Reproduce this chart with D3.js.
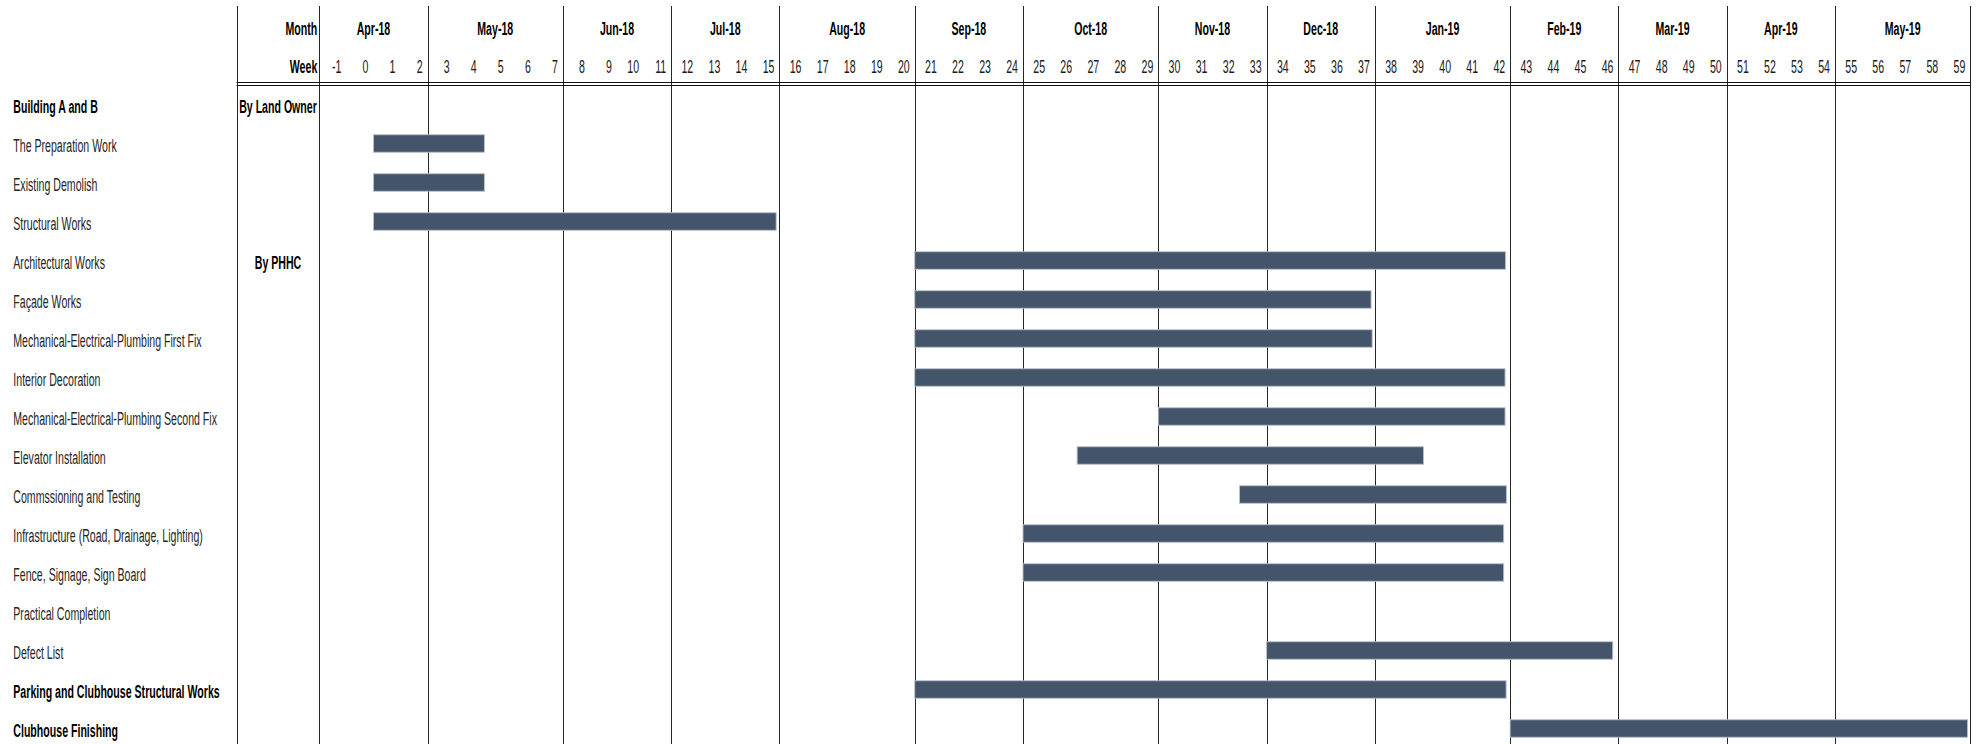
<!DOCTYPE html>
<html>
<head>
<meta charset="utf-8">
<script src="https://cdn.jsdelivr.net/npm/d3@7"></script>
<style>
  html, body { margin: 0; padding: 0; background: #ffffff; }
  svg { display: block; }
  text { font-family: "Liberation Sans", Arial, sans-serif; }
</style>
</head>
<body>
<div id="chart"></div>
<script>
// ---------------- data ----------------
const months = ["Apr-18","May-18","Jun-18","Jul-18","Aug-18","Sep-18","Oct-18","Nov-18","Dec-18","Jan-19","Feb-19","Mar-19","Apr-19","May-19"];
const monthStartWeek = [-1, 3, 8, 12, 16, 21, 25, 30, 34, 38, 43, 47, 51, 55];
const lastWeekEnd = 60;
const weeks = [-1,0,1,2,3,4,5,6,7,8,9,10,11,12,13,14,15,16,17,18,19,20,21,22,23,24,25,26,27,28,29,30,31,32,33,34,35,36,37,38,39,40,41,42,43,44,45,46,47,48,49,50,51,52,53,54,55,56,57,58,59];

const tasks = [
  "Building A and B",
  "The Preparation Work",
  "Existing Demolish",
  "Structural Works",
  "Architectural Works",
  "Façade Works",
  "Mechanical-Electrical-Plumbing First Fix",
  "Interior Decoration",
  "Mechanical-Electrical-Plumbing Second Fix",
  "Elevator Installation",
  "Commssioning and Testing",
  "Infrastructure (Road, Drainage, Lighting)",
  "Fence, Signage, Sign Board",
  "Practical Completion",
  "Defect List",
  "Parking and Clubhouse Structural Works",
  "Clubhouse Finishing"
];
// start / end in weeks (null = no bar)
const barStart = [null, 1, 1, 1, 21, 21, 21, 21, 30, 27, 33, 25, 25, null, 34, 21, 43];
const barEnd   = [null, 5.1, 5.1, 15.88, 42.83, 37.86, 37.9, 42.81, 42.81, 39.8, 42.86, 42.76, 42.76, null, 46.79, 42.85, 59.9];

const headingTasks = ["Building A and B", "Parking and Clubhouse Structural Works", "Clubhouse Finishing"];
const ownerLabels = ["By Land Owner", "By PHHC"];
const ownerRows = ["Building A and B", "Architectural Works"];

// ---------------- layout ----------------
const W = 1987, H = 744;
const SX = 0.57;          // horizontal condensing of the text
const FS = 18.6;          // font size
const rowTop = 85.5, rowH = 39;
const labelColLeft = 236.5;
const headerMonthY = 35.3, headerWeekY = 73.3;
const lineColor = "#262626";
const barColor = "#44546a";

const svg = d3.select("#chart").append("svg")
  .attr("width", W).attr("height", H)
  .style("background", "#fff");

const x = d3.scaleLinear().domain([-1, lastWeekEnd]).range([319.3, 1970.3]);
const y = d3.scaleBand().domain(tasks).range([rowTop, rowTop + tasks.length * rowH]).padding(0);

function addText(g, tx, ty, str, anchor, weight, color) {
  const t = g.append("g").attr("transform", `translate(${tx},${ty}) scale(${SX},1)`);
  t.append("text")
    .attr("x", 0).attr("y", 0)
    .attr("text-anchor", anchor)
    .attr("font-size", FS)
    .attr("font-weight", weight)
    .attr("fill", color)
    .text(str);
}

// ---------------- grid lines ----------------
const grid = svg.append("g");
const vLines = [labelColLeft].concat(monthStartWeek.map(w => x(w)), [x(lastWeekEnd)]);
grid.selectAll("line.v").data(vLines).join("line")
  .attr("class", "v")
  .attr("x1", d => Math.round(d) + 0.5).attr("x2", d => Math.round(d) + 0.5)
  .attr("y1", 6).attr("y2", H)
  .attr("stroke", lineColor).attr("stroke-width", 1);

// header double line
[82.5, 85.5].forEach(yy => {
  grid.append("line")
    .attr("x1", labelColLeft).attr("x2", Math.round(x(lastWeekEnd)) + 1)
    .attr("y1", yy).attr("y2", yy)
    .attr("stroke", "#111").attr("stroke-width", 1.1);
});

// ---------------- header ----------------
const hdr = svg.append("g");
addText(hdr, 317.3, headerMonthY, "Month", "end", "bold", "#000");
addText(hdr, 317.3, headerWeekY, "Week", "end", "bold", "#000");

months.forEach((m, i) => {
  const a = x(monthStartWeek[i]);
  const b = x(i + 1 < monthStartWeek.length ? monthStartWeek[i + 1] : lastWeekEnd);
  addText(hdr, (a + b) / 2, headerMonthY, m, "middle", "bold", "#000");
});

weeks.forEach(w => {
  addText(hdr, x(w + 1) - 5, headerWeekY, String(w), "end", "normal", "#1a1a1a");
});

// ---------------- row labels ----------------
const lbl = svg.append("g");
tasks.forEach(t => {
  const cy = y(t) + y.bandwidth() / 2;
  const bold = headingTasks.includes(t);
  addText(lbl, 13.3, cy + 7.5, t, "start", bold ? "bold" : "normal", bold ? "#000" : "#262626");
});
ownerLabels.forEach((o, i) => {
  const cy = y(ownerRows[i]) + y.bandwidth() / 2;
  addText(lbl, 278, cy + 7.5, o, "middle", "bold", "#000");
});

// ---------------- bars ----------------
const bars = tasks.map((t, i) => ({ task: t, s: barStart[i], e: barEnd[i] })).filter(d => d.s !== null);
const barH = 17.5;
svg.append("g").selectAll("rect").data(bars).join("rect")
  .attr("x", d => x(d.s))
  .attr("width", d => x(d.e) - x(d.s))
  .attr("y", d => y(d.task) + y.bandwidth() / 2 - barH / 2 - 0.5)
  .attr("height", barH)
  .attr("fill", barColor)
  .attr("stroke", "#b9c1cc")
  .attr("stroke-width", 0.9);
</script>
</body>
</html>
